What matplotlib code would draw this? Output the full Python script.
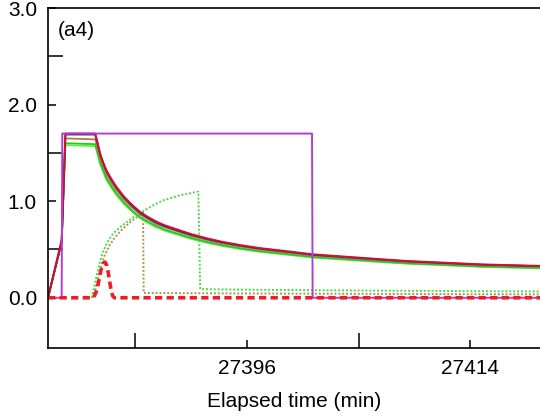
import matplotlib
matplotlib.use('Agg')
import matplotlib.pyplot as plt
from matplotlib.ticker import FormatStrFormatter

plt.rcParams['font.family'] = ['Liberation Sans', 'DejaVu Sans']
plt.rcParams['font.size'] = 15

# solid curves (common time axis)
t_solid = [27380.0, 27381.1, 27381.4, 27383.8, 27384.0, 27384.2, 27384.45, 27384.7, 27385.1, 27385.5,
           27386.1, 27386.7, 27387.4, 27388.0, 27388.7, 27389.4, 27390.1, 27391.5, 27392.8, 27394.0,
           27395.5, 27397.0, 27398.7, 27401.3, 27404.0, 27406.7, 27409.0, 27411.6, 27415.0, 27419.6]
red   = [0, 0.60, 1.70, 1.70, 1.60, 1.49, 1.40, 1.32, 1.23, 1.15, 1.05, 0.97, 0.89, 0.84, 0.79,
         0.75, 0.72, 0.66, 0.615, 0.58, 0.545, 0.515, 0.49, 0.45, 0.425, 0.40, 0.38, 0.365, 0.345, 0.33]
navy  = [0, 0.58, 1.69, 1.69, 1.59, 1.48, 1.39, 1.31, 1.22, 1.14, 1.04, 0.96, 0.88, 0.83, 0.78,
         0.74, 0.71, 0.652, 0.608, 0.573, 0.539, 0.51, 0.485, 0.445, 0.42, 0.396, 0.376, 0.361, 0.342, 0.327]
brown = [0, 0.58, 1.65, 1.64, 1.55, 1.44, 1.36, 1.28, 1.19, 1.115, 1.02, 0.94, 0.865, 0.815, 0.765,
         0.73, 0.70, 0.64, 0.597, 0.563, 0.53, 0.50, 0.475, 0.437, 0.412, 0.388, 0.369, 0.354, 0.335, 0.32]
green = [0, 0.57, 1.60, 1.59, 1.50, 1.40, 1.32, 1.24, 1.155, 1.08, 0.99, 0.91, 0.835, 0.79, 0.745,
         0.705, 0.677, 0.62, 0.578, 0.545, 0.512, 0.484, 0.46, 0.423, 0.40, 0.376, 0.357, 0.343, 0.324, 0.31]
lime  = [0, 0.57, 1.58, 1.57, 1.48, 1.38, 1.30, 1.22, 1.14, 1.065, 0.97, 0.90, 0.825, 0.777, 0.73,
         0.694, 0.666, 0.61, 0.569, 0.537, 0.504, 0.476, 0.453, 0.416, 0.393, 0.37, 0.352, 0.338, 0.319, 0.305]

# purple step
t_step = [27380.0, 27381.1, 27381.15, 27401.25, 27401.3, 27419.6]
step   = [0, 0, 1.70, 1.70, 0, 0]

# dotted curves
t_gdot = [27383.5, 27383.7, 27383.9, 27384.15, 27384.4, 27384.8, 27385.25, 27385.9, 27386.5, 27387.1,
          27387.7, 27388.5, 27389.3, 27390.6, 27392.1, 27392.25, 27395.0, 27405.0, 27419.6]
gdot   = [0, 0.10, 0.22, 0.36, 0.47, 0.58, 0.667, 0.74, 0.80, 0.855,
          0.90, 0.96, 1.01, 1.06, 1.10, 0.09, 0.085, 0.075, 0.065]
t_bdot = [27383.6, 27383.8, 27384.0, 27384.25, 27384.5, 27384.9, 27385.3, 27385.9, 27386.5, 27387.1,
          27387.65, 27387.7, 27395.0, 27419.6]
bdot   = [0, 0.08, 0.18, 0.31, 0.42, 0.53, 0.61, 0.70, 0.77, 0.83, 0.88, 0.05, 0.045, 0.035]

# red dashed bump
t_rdash = [27380.0, 27383.65, 27383.85, 27384.05, 27384.25, 27384.45, 27384.6, 27384.75, 27384.9,
           27385.05, 27385.2, 27385.35, 27419.6]
rdash   = [0, 0, 0.05, 0.15, 0.28, 0.36, 0.37, 0.33, 0.22, 0.10, 0.02, 0, 0]

fig = plt.figure(figsize=(5.4, 4.16), dpi=100)
ax = fig.add_axes([48/540, 1-348/416, 1-48/540, 340/416])

ax.plot(t_gdot, gdot, color='#44dd44', lw=1.4, ls=(0, (1, 1)))
ax.plot(t_bdot, bdot, color='#b09050', lw=1.4, ls=(0, (1, 1)))

ax.plot(t_solid, lime, color='#66ee44', lw=1.3)
ax.plot(t_solid, green, color='#22c822', lw=1.3)
ax.plot(t_solid, brown, color='#a8843a', lw=1.3)
ax.plot(t_solid, navy, color='#2a2a9a', lw=1.3)
ax.plot(t_solid, red, color='#d0102e', lw=1.4)

ax.plot(t_step, step, color='#b040d0', lw=1.4)
ax.plot(t_rdash, rdash, color='#ee1c24', lw=2.6, ls=(0, (2, 1.2)))

ax.set_xlim(27380.0, 27419.6)
ax.set_ylim(-0.52, 3.0)

ax.set_xticks([27396, 27414])
ax.set_xticks([27387, 27405], minor=True)
ax.set_yticks([0, 1, 2, 3])
ax.set_yticks([0.5, 1.5, 2.5], minor=True)
ax.yaxis.set_major_formatter(FormatStrFormatter('%.1f'))

ax.tick_params(which='major', direction='in', length=6, width=1.1, pad=8)
ax.tick_params(which='minor', direction='in', length=10.5, width=1.1)
ax.spines['right'].set_visible(False)
for s in ['left', 'top', 'bottom']:
    ax.spines[s].set_linewidth(1.2)

ax.set_xlabel('Elapsed time (min)', labelpad=10)
ax.text(0.019, 0.935, '(a4)', transform=ax.transAxes, ha='left', va='center')

fig.savefig('out.png', dpi=100)
